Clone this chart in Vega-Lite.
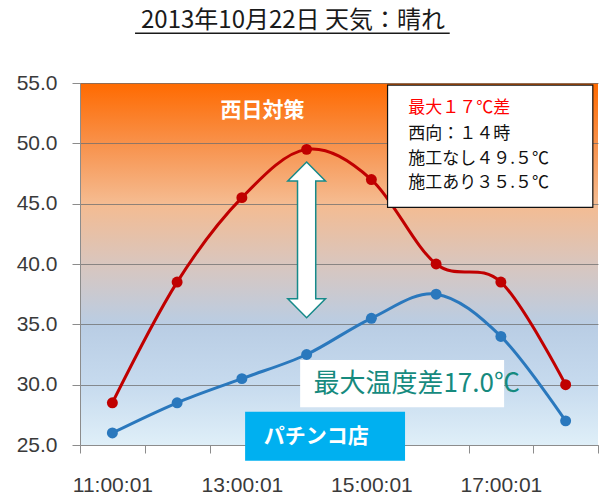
{
  "$schema": "https://vega.github.io/schema/vega-lite/v6.json",
  "width": 518,
  "height": 362,
  "autosize": {"type": "none"},
  "padding": {"left": 80, "top": 83, "right": 10, "bottom": 54},
  "background": "white",
  "title": {
    "text": "2013年10月22日 天気：晴れ",
    "font": "Noto Sans CJK JP",
    "fontSize": 24,
    "fontWeight": "normal",
    "color": "#1a1a1a",
    "anchor": "middle",
    "baseline": "bottom",
    "dx": -46,
    "dy": 24,
    "offset": 0
  },
  "config": {
    "view": {
      "stroke": null,
      "fill": {
        "gradient": "linear",
        "x1": 0, "y1": 0, "x2": 0, "y2": 1,
        "stops": [
          {"offset": 0, "color": "#ff6a00"},
          {"offset": 0.17, "color": "#f8924c"},
          {"offset": 0.33, "color": "#f5bb90"},
          {"offset": 0.5, "color": "#d9c6be"},
          {"offset": 0.67, "color": "#b9cde4"},
          {"offset": 0.83, "color": "#c6daee"},
          {"offset": 1, "color": "#dfeff8"}
        ]
      }
    }
  },
  "data": {
    "values": [
      {"t": 11, "series": "施工なし", "temp": 28.5},
      {"t": 12, "series": "施工なし", "temp": 38.5},
      {"t": 13, "series": "施工なし", "temp": 45.5},
      {"t": 14, "series": "施工なし", "temp": 49.5},
      {"t": 15, "series": "施工なし", "temp": 47.0},
      {"t": 16, "series": "施工なし", "temp": 40.0},
      {"t": 17, "series": "施工なし", "temp": 38.5},
      {"t": 18, "series": "施工なし", "temp": 30.0},
      {"t": 11, "series": "施工あり", "temp": 26.0},
      {"t": 12, "series": "施工あり", "temp": 28.5},
      {"t": 13, "series": "施工あり", "temp": 30.5},
      {"t": 14, "series": "施工あり", "temp": 32.5},
      {"t": 15, "series": "施工あり", "temp": 35.5},
      {"t": 16, "series": "施工あり", "temp": 37.5},
      {"t": 17, "series": "施工あり", "temp": 34.0},
      {"t": 18, "series": "施工あり", "temp": 27.0}
    ]
  },
  "layer": [
    {
      "mark": {"type": "line", "interpolate": "cardinal", "strokeWidth": 3},
      "encoding": {
        "x": {
          "field": "t", "type": "quantitative",
          "scale": {"domain": [10.5, 18.5], "nice": false, "zero": false},
          "axis": {
            "title": null,
            "values": [10.5, 11.5, 12.5, 13.5, 14.5, 15.5, 16.5, 17.5, 18.5],
            "labelExpr": "datum.value < 18 && (datum.value - 10.5) % 2 == 0 ? (datum.value + 0.5) + ':00:01' : ''",
            "labelOffset": 32.4,
            "labelOverlap": false,
            "labelBound": false,
            "labelFlush": false,
            "labelFont": "Liberation Sans",
            "labelFontSize": 21,
            "labelColor": "#3a3a3a",
            "labelPadding": 21,
            "tickSize": 8,
            "tickColor": "#8c8c8c",
            "domainColor": "#8c8c8c",
            "grid": false
          }
        },
        "y": {
          "field": "temp", "type": "quantitative",
          "scale": {"domain": [25, 55], "nice": false, "zero": false},
          "axis": {
            "title": null,
            "values": [25, 30, 35, 40, 45, 50, 55],
            "format": ".1f",
            "labelFont": "Liberation Sans",
            "labelFontSize": 21,
            "labelColor": "#3a3a3a",
            "labelPadding": 15,
            "tickSize": 8,
            "tickColor": "#8c8c8c",
            "domainColor": "#8c8c8c",
            "grid": true,
            "gridColor": "#6e6e6e",
            "gridOpacity": 0.75
          }
        },
        "color": {
          "field": "series", "type": "nominal",
          "scale": {"domain": ["施工なし", "施工あり"], "range": ["#c00000", "#2a78bd"]},
          "legend": null
        }
      }
    },
    {
      "mark": {"type": "point", "filled": true, "size": 120, "opacity": 1},
      "encoding": {
        "x": {"field": "t", "type": "quantitative"},
        "y": {"field": "temp", "type": "quantitative"},
        "color": {
          "field": "series", "type": "nominal",
          "scale": {"domain": ["施工なし", "施工あり"], "range": ["#d40000", "#1f76c6"]},
          "legend": null
        }
      }
    },
    {
      "data": {"values": [{}]},
      "mark": {
        "type": "point",
        "shape": "M0,-1L0.242,-0.756L0.117,-0.756L0.117,0.756L0.242,0.756L0,1L-0.242,0.756L-0.117,0.756L-0.117,-0.756L-0.242,-0.756Z",
        "size": 24211,
        "filled": true,
        "fill": "white",
        "stroke": "#168a8a",
        "strokeWidth": 1.5,
        "opacity": 1
      },
      "encoding": {"x": {"datum": 14}, "y": {"datum": 42}}
    },
    {
      "data": {"values": [{}]},
      "mark": {"type": "rect", "fill": "white", "stroke": "#111111", "strokeWidth": 1.2},
      "encoding": {"x": {"datum": 15.25}, "x2": {"datum": 18.42}, "y": {"datum": 54.83}, "y2": {"datum": 44.7}}
    },
    {
      "data": {"values": [{}]},
      "mark": {"type": "text", "text": "最大１７℃差", "align": "left", "baseline": "middle", "font": "Noto Sans CJK JP", "fontSize": 17, "color": "#ff0000"},
      "encoding": {"x": {"datum": 15.57}, "y": {"datum": 52.95}}
    },
    {
      "data": {"values": [{}]},
      "mark": {"type": "text", "text": "西向：１４時", "align": "left", "baseline": "middle", "font": "Noto Sans CJK JP", "fontSize": 17, "color": "#111111"},
      "encoding": {"x": {"datum": 15.57}, "y": {"datum": 50.77}}
    },
    {
      "data": {"values": [{}]},
      "mark": {"type": "text", "text": "施工なし４９.５℃", "align": "left", "baseline": "middle", "font": "Noto Sans CJK JP", "fontSize": 17, "color": "#111111"},
      "encoding": {"x": {"datum": 15.57}, "y": {"datum": 48.73}}
    },
    {
      "data": {"values": [{}]},
      "mark": {"type": "text", "text": "施工あり３５.５℃", "align": "left", "baseline": "middle", "font": "Noto Sans CJK JP", "fontSize": 17, "color": "#111111"},
      "encoding": {"x": {"datum": 15.57}, "y": {"datum": 46.71}}
    },
    {
      "data": {"values": [{}]},
      "mark": {"type": "text", "text": "西日対策", "align": "center", "baseline": "middle", "font": "Noto Sans CJK JP", "fontSize": 21, "fontWeight": "bold", "color": "white"},
      "encoding": {"x": {"datum": 13.32}, "y": {"datum": 52.7}}
    },
    {
      "data": {"values": [{}]},
      "mark": {"type": "rect", "fill": "white"},
      "encoding": {"x": {"datum": 13.9}, "x2": {"datum": 17.05}, "y": {"datum": 32.05}, "y2": {"datum": 28.13}}
    },
    {
      "data": {"values": [{}]},
      "mark": {"type": "text", "text": "最大温度差17.0℃", "align": "center", "baseline": "middle", "font": "Noto Sans CJK JP", "fontSize": 26, "color": "#168a7e"},
      "encoding": {"x": {"datum": 15.7}, "y": {"datum": 30.02}}
    },
    {
      "data": {"values": [{}]},
      "mark": {"type": "rect", "fill": "#00b0f0"},
      "encoding": {"x": {"datum": 13.05}, "x2": {"datum": 15.52}, "y": {"datum": 27.76}, "y2": {"datum": 23.7}}
    },
    {
      "data": {"values": [{}]},
      "mark": {"type": "text", "text": "パチンコ店", "align": "center", "baseline": "middle", "font": "Noto Sans CJK JP", "fontSize": 21, "fontWeight": "bold", "color": "white"},
      "encoding": {"x": {"datum": 14.15}, "y": {"datum": 25.7}}
    },
    {
      "data": {"values": [{}]},
      "mark": {"type": "rule", "color": "#1a1a1a", "strokeWidth": 1.5},
      "encoding": {"x": {"datum": 11.35}, "x2": {"datum": 16.21}, "y": {"datum": 59.12}}
    }
  ]
}
